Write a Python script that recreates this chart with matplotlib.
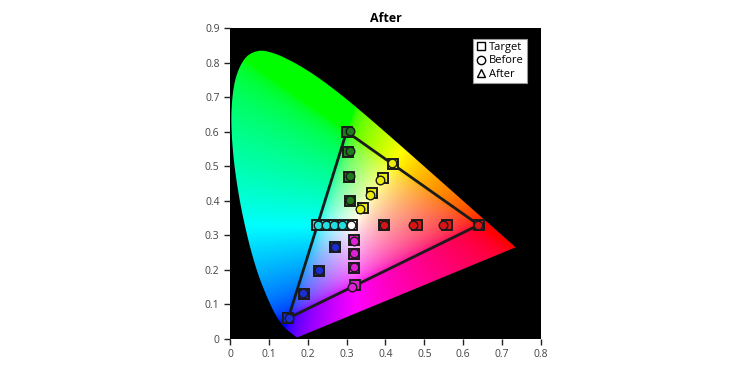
import numpy as np
import matplotlib
matplotlib.use('Agg')
from matplotlib import pyplot as plt
from matplotlib.patches import Polygon
from matplotlib.lines import Line2D

plt.rcParams['font.family'] = ['Open Sans', 'DejaVu Sans']

# CIE 1931 spectral locus, 380-700 nm every 5 nm
locus_x = [0.1741, 0.1740, 0.1738, 0.1736, 0.1733, 0.1730, 0.1726, 0.1721, 0.1714, 0.1703,
           0.1689, 0.1669, 0.1644, 0.1611, 0.1566, 0.1510, 0.1440, 0.1355, 0.1241, 0.1096,
           0.0913, 0.0687, 0.0454, 0.0235, 0.0082, 0.0039, 0.0139, 0.0389, 0.0743, 0.1142,
           0.1547, 0.1929, 0.2296, 0.2658, 0.3016, 0.3373, 0.3731, 0.4087, 0.4441, 0.4788,
           0.5125, 0.5448, 0.5752, 0.6029, 0.6270, 0.6482, 0.6658, 0.6801, 0.6915, 0.7006,
           0.7079, 0.7140, 0.7190, 0.7230, 0.7260, 0.7283, 0.7300, 0.7311, 0.7320, 0.7327,
           0.7334, 0.7340, 0.7344, 0.7346, 0.7347]
locus_y = [0.0050, 0.0050, 0.0049, 0.0049, 0.0048, 0.0048, 0.0048, 0.0048, 0.0051, 0.0058,
           0.0069, 0.0086, 0.0109, 0.0138, 0.0177, 0.0227, 0.0297, 0.0399, 0.0578, 0.0868,
           0.1327, 0.2007, 0.2950, 0.4127, 0.5384, 0.6548, 0.7502, 0.8120, 0.8338, 0.8262,
           0.8059, 0.7816, 0.7543, 0.7243, 0.6923, 0.6589, 0.6245, 0.5896, 0.5547, 0.5202,
           0.4866, 0.4544, 0.4242, 0.3965, 0.3725, 0.3514, 0.3340, 0.3197, 0.3083, 0.2993,
           0.2920, 0.2859, 0.2809, 0.2770, 0.2740, 0.2717, 0.2700, 0.2689, 0.2680, 0.2673,
           0.2666, 0.2660, 0.2656, 0.2654, 0.2653]

# measured patches: series name for every point, then target / before / after xy
series = ['white',
          'green', 'green', 'green', 'green',
          'yellow', 'yellow', 'yellow', 'yellow',
          'red', 'red', 'red', 'red',
          'cyan', 'cyan', 'cyan', 'cyan',
          'magenta', 'magenta', 'magenta', 'magenta',
          'blue', 'blue', 'blue', 'blue']
target_x = [0.313,
            0.300, 0.303, 0.306, 0.309,
            0.419, 0.393, 0.366, 0.341,
            0.640, 0.558, 0.481, 0.396,
            0.225, 0.247, 0.268, 0.290,
            0.321, 0.318, 0.318, 0.318,
            0.150, 0.191, 0.230, 0.271]
target_y = [0.329,
            0.600, 0.540, 0.468, 0.400,
            0.507, 0.466, 0.422, 0.378,
            0.330, 0.330, 0.330, 0.330,
            0.329, 0.329, 0.329, 0.329,
            0.156, 0.204, 0.245, 0.286,
            0.060, 0.131, 0.198, 0.266]
before_x = [0.312,
            0.309, 0.310, 0.309, 0.309,
            0.418, 0.386, 0.359, 0.334,
            0.638, 0.547, 0.472, 0.395,
            0.226, 0.248, 0.268, 0.289,
            0.314, 0.318, 0.318, 0.318,
            0.152, 0.188, 0.229, 0.270]
before_y = [0.329,
            0.602, 0.545, 0.473, 0.402,
            0.508, 0.460, 0.417, 0.375,
            0.330, 0.330, 0.331, 0.330,
            0.329, 0.329, 0.329, 0.329,
            0.150, 0.208, 0.249, 0.283,
            0.062, 0.133, 0.200, 0.267]
after_x = [0.313,
           0.301, 0.304, 0.306, 0.309,
           0.419, 0.392, 0.365, 0.340,
           0.640, 0.557, 0.480, 0.396,
           0.225, 0.247, 0.268, 0.290,
           0.320, 0.318, 0.318, 0.318,
           0.151, 0.191, 0.230, 0.271]
after_y = [0.329,
           0.599, 0.540, 0.468, 0.400,
           0.506, 0.465, 0.421, 0.377,
           0.330, 0.330, 0.330, 0.330,
           0.329, 0.329, 0.329, 0.329,
           0.156, 0.204, 0.245, 0.286,
           0.061, 0.131, 0.198, 0.266]

colors = {'white': '#ffffff', 'green': '#1d7a1d', 'yellow': '#ecec10',
          'red': '#d81414', 'cyan': '#22dede', 'magenta': '#e020d4', 'blue': '#1a2ed4'}


def xy_to_rgb(x, y):
    y = np.maximum(y, 1e-4)
    X = x / y
    Z = (1 - x - y) / y
    r = 3.2406 * X - 1.5372 - 0.4986 * Z
    g = -0.9689 * X + 1.8758 + 0.0415 * Z
    b = 0.0557 * X - 0.2040 + 1.0570 * Z
    rgb = np.clip(np.dstack([r, g, b]), 0, None)
    rgb = rgb / np.maximum(rgb.max(axis=2, keepdims=True), 1e-6)
    rgb = np.where(rgb <= 0.0031308, 12.92 * rgb, 1.055 * rgb ** (1 / 2.4) - 0.055)
    return np.clip(rgb, 0, 1)


def smooth_outline(px, py, n=12):
    # catmull-rom through the locus points so the clip edge has no corners
    p = np.column_stack([px, py])
    p = np.vstack([p[0], p, p[-1]])
    out = []
    t = np.linspace(0, 1, n, endpoint=False)[:, None]
    for i in range(1, len(p) - 2):
        p0, p1, p2, p3 = p[i - 1], p[i], p[i + 1], p[i + 2]
        out.append(0.5 * ((2 * p1) + (-p0 + p2) * t +
                          (2 * p0 - 5 * p1 + 4 * p2 - p3) * t ** 2 +
                          (-p0 + 3 * p1 - 3 * p2 + p3) * t ** 3))
    out.append(p[-2][None, :])
    return np.vstack(out)


fig = plt.figure(figsize=(7.49, 3.71), dpi=100)
ax = fig.add_axes([0.307, 0.0863, 0.4153, 0.8382])
ax.set_facecolor('black')

gx, gy = np.meshgrid(np.linspace(0, 0.8, 480), np.linspace(0, 0.9, 540))
im = ax.imshow(xy_to_rgb(gx, gy), extent=[0, 0.8, 0, 0.9], origin='lower',
               aspect='auto', interpolation='bilinear', zorder=1)
im.set_clip_path(Polygon(smooth_outline(locus_x, locus_y), closed=True,
                         transform=ax.transData))

# sRGB gamut triangle through the primary targets
tri = [1, 9, 21, 1]
ax.plot([target_x[i] for i in tri], [target_y[i] for i in tri],
        color='#1a1a1a', lw=2, zorder=2)

for i, s in enumerate(series):
    c = colors[s]
    ax.plot(after_x[i], after_y[i], '^', ms=5, mfc=c, mec='#222222', mew=0.8, zorder=3)
    ax.plot(target_x[i], target_y[i], 's', ms=7.8, mfc=c, mec='#1a1a1a', mew=1.4, zorder=4)
    ax.plot(before_x[i], before_y[i], 'o', ms=6.2, mfc=c, mec='#1a1a1a', mew=1.0, zorder=5)

ax.set_xlim(0, 0.8)
ax.set_ylim(0, 0.9)
ax.set_xticks(np.arange(0, 0.81, 0.1))
ax.set_xticklabels(['0', '0.1', '0.2', '0.3', '0.4', '0.5', '0.6', '0.7', '0.8'])
ax.set_yticks(np.arange(0, 0.91, 0.1))
ax.set_yticklabels(['0', '0.1', '0.2', '0.3', '0.4', '0.5', '0.6', '0.7', '0.8', '0.9'])
ax.tick_params(direction='out', length=4, width=1, colors='#222222',
               labelcolor='#444444', labelsize=7.5)
for sp in ax.spines.values():
    sp.set_visible(False)
ax.set_title('After', fontsize=9, fontweight='bold', pad=4)

handles = [Line2D([], [], ls='none', marker='s', ms=6, mfc='none', mec='black', mew=1),
           Line2D([], [], ls='none', marker='o', ms=6, mfc='none', mec='black', mew=1),
           Line2D([], [], ls='none', marker='^', ms=6, mfc='none', mec='black', mew=1)]
leg = ax.legend(handles, ['Target', 'Before', 'After'], loc='upper right',
                bbox_to_anchor=(0.955, 0.965), fontsize=8, frameon=True, fancybox=False,
                framealpha=1, facecolor='white',
                handlelength=0.8, handletextpad=0.35, borderpad=0.3, labelspacing=0.2,
                borderaxespad=0)
leg.get_frame().set_edgecolor('#999999')
leg.get_frame().set_linewidth(0.8)

fig.savefig('out.png', dpi=100)
